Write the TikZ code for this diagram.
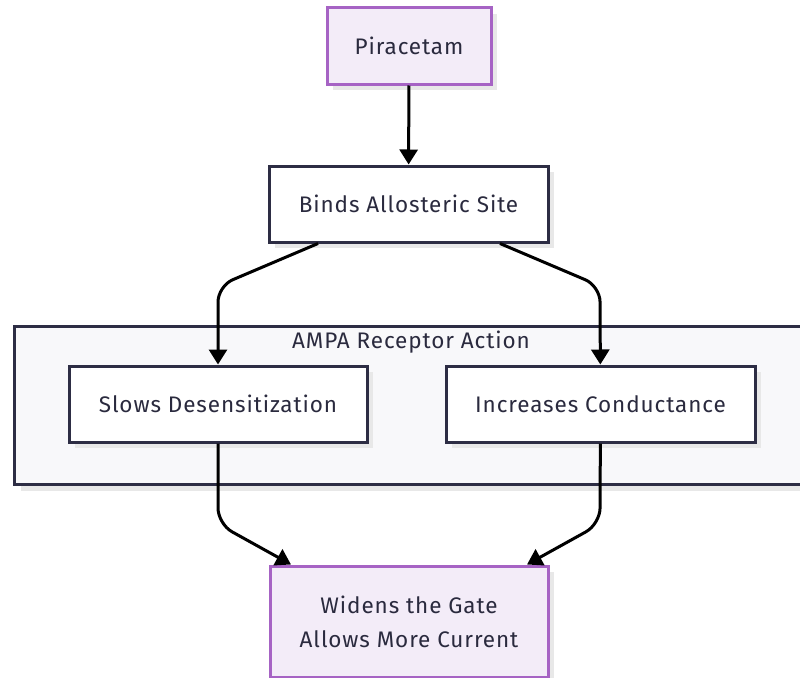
\documentclass[tikz,border=0pt]{standalone}
\usepackage{fontspec}
\setmainfont{Fira Sans}[LetterSpace=4]
\usetikzlibrary{arrows.meta,shadows}
\definecolor{inktext}{RGB}{42,42,62}
\definecolor{boxline}{RGB}{45,45,68}
\definecolor{purpline}{RGB}{166,99,196}
\definecolor{purpfill}{RGB}{243,236,248}
\definecolor{groupfill}{RGB}{248,248,250}
\tikzset{
  shade box/.style={drop shadow={shadow xshift=6pt,shadow yshift=-6pt,fill=black!9,opacity=1}},
  stepbox/.style={draw=boxline,line width=3pt,fill=white,shade box,text=inktext,
    minimum height=76pt,inner sep=0pt,font=\fontsize{22.5}{28}\selectfont},
  endbox/.style={stepbox,draw=purpline,fill=purpfill,align=center},
  flow/.style={line width=3pt,rounded corners=16pt,-{Triangle[width=18pt,length=15pt]}}
}
\begin{document}
\begin{tikzpicture}[x=1pt,y=-1pt]
  \useasboundingbox (0,0) rectangle (800,677);
  \clip (0,0) rectangle (800,677);
  % group
  \node[draw=boxline,line width=3pt,fill=groupfill,shade box,minimum width=800pt,
    minimum height=158pt,inner sep=0pt,anchor=north west] (group) at (13,325) {};
  \node[text=inktext,font=\fontsize{22.5}{28}\selectfont] (grouplabel) at (411,342) {AMPA Receptor Action};
  % boxes
  \node[endbox,minimum width=164pt] (pira) at (409,46) {Piracetam};
  \node[stepbox,minimum width=279pt] (binds) at (408.5,204) {Binds Allosteric Site};
  \node[stepbox,minimum width=298pt] (slows) at (218,404) {Slows Desensitization};
  \node[stepbox,minimum width=309pt] (incr) at (600.5,404) {Increases Conductance};
  \node[endbox,minimum width=278pt,minimum height=111pt] (widen) at (409,621.5)
    {Widens the Gate\\[6pt]Allows More Current};
  % arrows
  \draw[flow] (pira) -- (binds);
  \draw[flow] (binds.south -| 318,0) -- (218,286) -- (slows);
  \draw[flow] (binds.south -| 500,0) -- (600,286) -- (incr);
  \draw[flow] (slows) -- (218,524) -- (widen.north -| 291,0);
  \draw[flow] (incr) -- (600,524) -- (widen.north -| 527,0);
\end{tikzpicture}
\end{document}
